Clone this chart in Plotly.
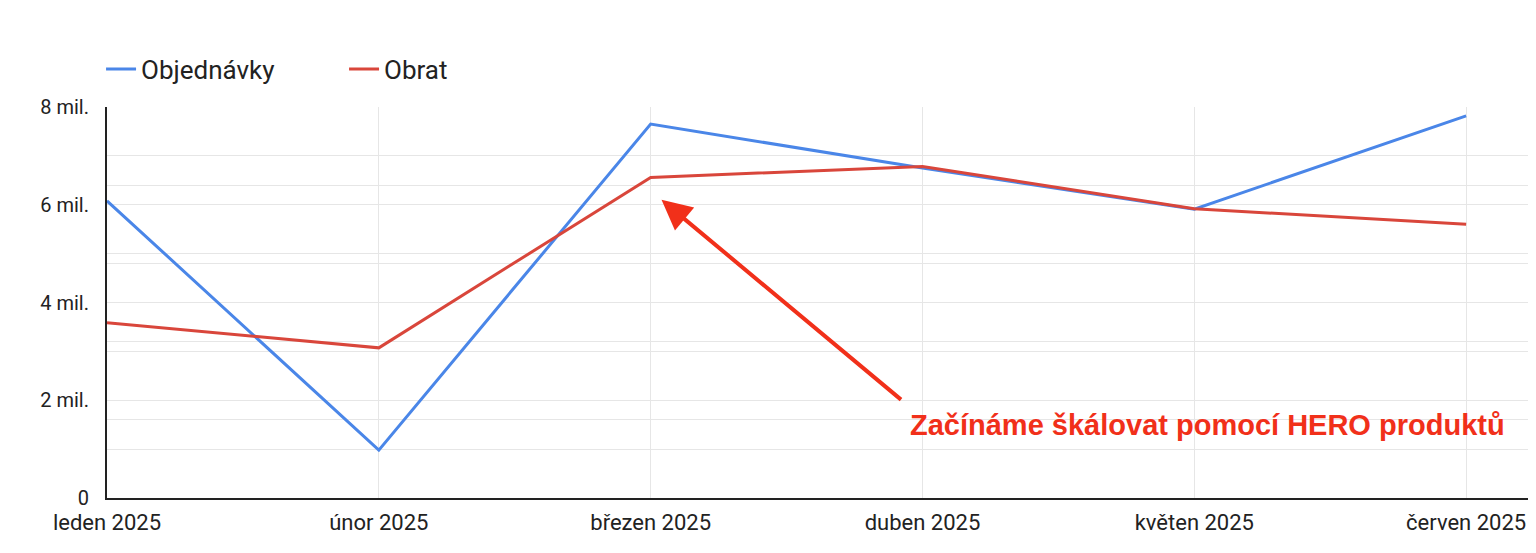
import plotly.graph_objects as go

mesice = ['leden 2025', 'únor 2025', 'březen 2025', 'duben 2025', 'květen 2025', 'červen 2025']
objednavky = [6.08e6, 0.98e6, 7.65e6, 6.75e6, 5.91e6, 7.82e6]
# obrat je na druhe (skryte) ose
obrat = [2.24e6, 1.92e6, 4.10e6, 4.24e6, 3.70e6, 3.50e6]

y_tickvals = [0, 1e6, 2e6, 3e6, 4e6, 5e6, 6e6, 7e6, 8e6]
y_ticktext = ['0', '', '2 mil.', '', '4 mil.', '', '6 mil.', '', '8 mil.']

fig = go.Figure()
fig.add_trace(go.Scatter(x=mesice, y=objednavky, name='Objednávky', mode='lines',
                         line=dict(color='#4a86e8', width=3)))
fig.add_trace(go.Scatter(x=mesice, y=obrat, name='Obrat', mode='lines', yaxis='y2',
                         line=dict(color='#d9463b', width=3)))

# sipka a popisek
fig.add_annotation(x=2.04, y=6.1e6, xref='x', yref='y', text='', showarrow=True,
                   ax=241, ay=201, arrowhead=2, arrowsize=1.5, arrowwidth=4,
                   arrowcolor='#f1301a')
fig.add_annotation(x=4.05, y=1.49e6, xref='x', yref='y', showarrow=False,
                   text='<b>Začínáme škálovat pomocí HERO produktů</b>',
                   font=dict(family='Liberation Sans', size=29, color='#f1301a'))

# stranka ma okraj 8 px, proto mensi rozmery
fig.update_layout(
    width=1528, height=545,
    margin=dict(l=99, r=0, t=99, b=55),
    plot_bgcolor='white', paper_bgcolor='white',
    font=dict(family='Roboto', color='#222222'),
    legend=dict(orientation='h', x=0.0609, xref='container', y=0.888, yref='container',
                xanchor='left', yanchor='middle', font=dict(size=26),
                entrywidth=198, entrywidthmode='pixels'),
    xaxis=dict(type='category', range=[0, 5.257], showgrid=True, gridcolor='#e6e6e6',
               showline=True, linecolor='#222222', linewidth=2, ticks='',
               tickfont=dict(size=22), zeroline=False, automargin=False,
               ticklabelstandoff=4),
    yaxis=dict(range=[0, 8e6], tickvals=y_tickvals, ticktext=y_ticktext,
               showgrid=True, gridcolor='#e6e6e6', showline=True, linecolor='#222222',
               linewidth=2, ticks='', tickfont=dict(size=20), zeroline=False,
               ticklabelstandoff=12, automargin=False),
    yaxis2=dict(overlaying='y', side='right', range=[0, 5e6], dtick=1e6,
                showticklabels=False, showgrid=True, gridcolor='#e6e6e6',
                zeroline=False, showline=False, automargin=False),
)

fig.write_html('out.html')
